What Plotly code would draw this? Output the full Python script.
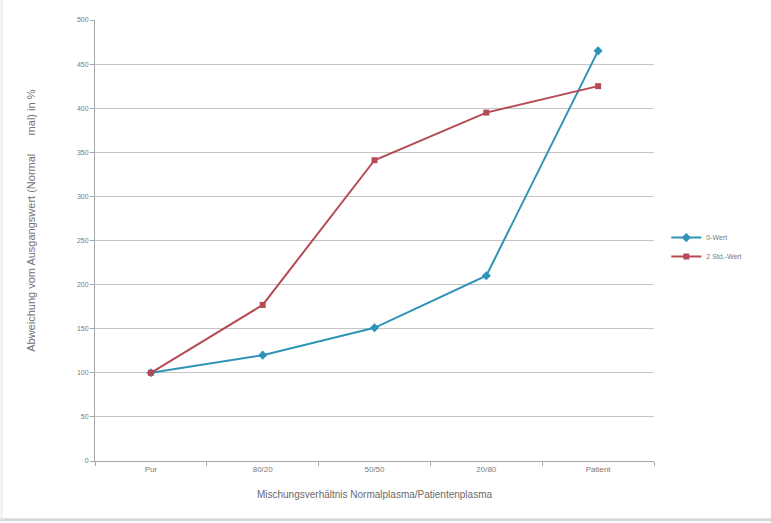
import plotly.graph_objects as go

# Mischungsverhältnisse (Kategorien der x-Achse)
categories = ["Pur", "80/20", "50/50", "20/80", "Patient"]

# Abweichung vom Ausgangswert in %
wert_0 = [100, 120, 151, 210, 465]
wert_2std = [100, 177, 341, 395, 425]

y_ticks = list(range(0, 501, 50))

BLUE = "#2f93b8"
RED = "#b54c55"
TXT = "#7a7a7a"
FONT = "Liberation Sans, Arial, sans-serif"

fig = go.Figure()
fig.add_trace(go.Scatter(
    x=categories, y=wert_0, name="0-Wert", mode="lines+markers",
    line=dict(color=BLUE, width=2),
    marker=dict(symbol="diamond", size=7, color=BLUE),
))
fig.add_trace(go.Scatter(
    x=categories, y=wert_2std, name="2 Std.-Wert", mode="lines+markers",
    line=dict(color=RED, width=2),
    marker=dict(symbol="square", size=6, color=RED),
))

# dezenter Rahmen unten und links um die Grafik
fig.add_shape(type="line", xref="paper", yref="paper",
              x0=-0.17, x1=1.21, y0=-0.133, y1=-0.133,
              line=dict(color="#d8d8d8", width=3), layer="below")
fig.add_shape(type="line", xref="paper", yref="paper",
              x0=-0.167, x1=-0.167, y0=-0.133, y1=1.05,
              line=dict(color="#ececec", width=2), layer="below")

# Titel der y-Achse (senkrecht, leicht oberhalb der Mitte)
fig.add_annotation(
    text="Abweichung vom Ausgangswert (Normal\u00a0\u00a0\u00a0\u00a0\u00a0\u00a0mal) in %",
    xref="paper", yref="paper", x=-0.116, y=0.545,
    xanchor="center", yanchor="middle", textangle=-90, showarrow=False,
    font=dict(size=11, color="#727272", family=FONT),
)

fig.update_layout(
    width=771, height=523,
    margin=dict(l=95, r=117, t=20, b=62),
    paper_bgcolor="white", plot_bgcolor="white",
    font=dict(family=FONT, size=8, color=TXT),
    showlegend=True,
    legend=dict(x=1.022, y=0.485, xanchor="left", yanchor="middle",
                font=dict(size=7, color=TXT), bgcolor="rgba(0,0,0,0)",
                itemwidth=30, tracegroupgap=2),
    xaxis=dict(
        type="category", range=[-0.5, 4.5],
        showgrid=False, showline=True, linecolor="#a8a8a8", linewidth=1,
        ticks="outside", ticklen=4, tickcolor="#a8a8a8", tickson="boundaries",
        tickfont=dict(size=8, color=TXT),
        title=dict(text="Mischungsverhältnis Normalplasma/Patientenplasma",
                   font=dict(size=10, color="#6a6a6a"), standoff=18),
    ),
    yaxis=dict(
        range=[0, 500], tickvals=y_ticks,
        showgrid=True, gridcolor="#c4c4c4", gridwidth=1,
        showline=True, linecolor="#a8a8a8", linewidth=1,
        ticks="outside", ticklen=4, tickcolor="#a8a8a8",
        tickfont=dict(size=7, color=TXT), zeroline=False,
    ),
)

fig.write_html("out.html")
